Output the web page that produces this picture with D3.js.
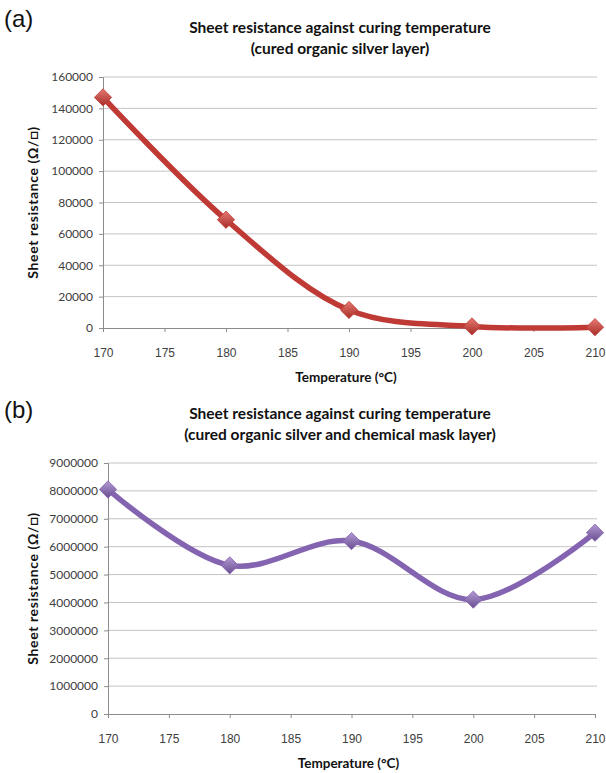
<!DOCTYPE html>
<html>
<head>
<meta charset="utf-8">
<script src="https://cdn.jsdelivr.net/npm/d3@7"></script>
<style>
  body { margin: 0; background: #fff; }
  svg { display: block; font-family: Lato, "Open Sans", sans-serif; }
</style>
</head>
<body>
<svg id="chart" width="606" height="773"></svg>
<script>
// Temperatures shared by both panels
const temperatures = [170, 180, 190, 200, 210];
const xTicks = [170, 175, 180, 185, 190, 195, 200, 205, 210];

// Panel (a): cured organic silver layer
const resistanceA = [147000, 69000, 11500, 1000, 500];
const yTicksA = [0, 20000, 40000, 60000, 80000, 100000, 120000, 140000, 160000];

// Panel (b): cured organic silver and chemical mask layer
const resistanceB = [8050000, 5330000, 6200000, 4100000, 6500000];
const yTicksB = [0, 1000000, 2000000, 3000000, 4000000, 5000000, 6000000, 7000000, 8000000, 9000000];

const svg = d3.select('#chart');
const defs = svg.append('defs');

function addGradient(id, light, dark) {
    const g = defs.append('linearGradient').attr('id', id)
        .attr('x1', 0).attr('y1', 0).attr('x2', 0).attr('y2', 1);
    g.append('stop').attr('offset', '0%').attr('stop-color', light);
    g.append('stop').attr('offset', '100%').attr('stop-color', dark);
}
addGradient('gradRed', '#e57a72', '#a82c27');
addGradient('gradPurple', '#b39ad3', '#6a4e91');

function drawPanel(opts) {
    const g = svg.append('g');

    const x = d3.scaleLinear().domain([170, 210]).range([opts.left, opts.right]);
    const y = d3.scaleLinear().domain([0, opts.yMax]).range([opts.bottom, opts.top]);

    // panel letter
    g.append('text')
        .attr('x', 4).attr('y', opts.letterY)
        .style('font-family', '"Liberation Sans", Arial, sans-serif')
        .style('font-size', '24px')
        .attr('fill', '#111')
        .text(opts.letter);

    // title
    opts.title.forEach((line, i) => {
        g.append('text')
            .attr('x', opts.titleX).attr('y', opts.titleY + i * 21)
            .attr('text-anchor', 'middle')
            .style('font-size', '15.5px').style('font-weight', 'bold')
            .attr('fill', '#111')
            .text(line);
    });

    // gridlines
    g.selectAll('line.grid')
        .data(opts.yTicks.filter(d => d > 0))
        .enter().append('line')
        .attr('x1', opts.left).attr('x2', opts.right + 2)
        .attr('y1', d => y(d)).attr('y2', d => y(d))
        .attr('stroke', '#c4c4c4').attr('stroke-width', 1);

    // y axis
    const yAxis = g.append('g')
        .attr('transform', `translate(${opts.left},0)`)
        .call(d3.axisLeft(y).tickValues(opts.yTicks).tickSize(4).tickPadding(6).tickFormat(d3.format('d')));
    yAxis.select('.domain').attr('stroke', '#8c8c8c');
    yAxis.selectAll('.tick line').attr('stroke', '#8c8c8c');
    yAxis.selectAll('.tick text').attr('fill', '#404040').style('font-size', '12px')
        .style('font-family', 'Lato, sans-serif');

    // x axis
    const xAxis = g.append('g')
        .attr('transform', `translate(0,${opts.bottom})`)
        .call(d3.axisBottom(x).tickValues(xTicks).tickSize(4).tickPadding(16));
    xAxis.select('.domain').attr('stroke', '#8c8c8c');
    xAxis.selectAll('.tick line').attr('stroke', '#8c8c8c');
    xAxis.selectAll('.tick text').attr('fill', '#404040').style('font-size', '12px');

    // axis titles
    g.append('text')
        .attr('x', (opts.left + opts.right) / 2 - 3).attr('y', opts.bottom + 54)
        .attr('text-anchor', 'middle')
        .style('font-size', '13.5px').style('font-weight', 'bold').attr('fill', '#111')
        .text('Temperature (°C)');
    g.append('text')
        .attr('transform', `translate(${opts.yTitleX},${(opts.top + opts.bottom) / 2}) rotate(-90)`)
        .attr('text-anchor', 'middle')
        .style('font-size', '14px').style('font-weight', 'bold').attr('fill', '#111')
        .style('letter-spacing', '0.6px')
        .text('Sheet resistance (Ω/□)');

    // data line
    const pts = temperatures.map((t, i) => [t, opts.values[i]]);
    const line = d3.line()
        .x(d => x(d[0])).y(d => y(d[1]))
        .curve(d3.curveCatmullRom.alpha(0.5));
    g.append('path')
        .datum(pts)
        .attr('d', line)
        .attr('fill', 'none')
        .attr('stroke', opts.color)
        .attr('stroke-width', 5.5)
        .attr('stroke-linecap', 'round');

    // diamond markers
    const sym = d3.symbol().type(d3.symbolDiamond2).size(190);
    g.selectAll('path.marker')
        .data(pts)
        .enter().append('path')
        .attr('class', 'marker')
        .attr('transform', d => `translate(${x(d[0])},${y(d[1])})`)
        .attr('d', sym)
        .attr('fill', opts.fill)
        .attr('stroke', opts.color)
        .attr('stroke-width', 0.8);
}

drawPanel({
    letter: '(a)', letterY: 27,
    title: ['Sheet resistance against curing temperature', '(cured organic silver layer)'],
    titleX: 340, titleY: 33,
    left: 103, right: 595, top: 77, bottom: 328,
    yTitleX: 38,
    yMax: 160000, yTicks: yTicksA, values: resistanceA,
    color: '#c03a35', fill: 'url(#gradRed)'
});

drawPanel({
    letter: '(b)', letterY: 418,
    title: ['Sheet resistance against curing temperature', '(cured organic silver and chemical mask layer)'],
    titleX: 340, titleY: 419,
    left: 108, right: 595, top: 463, bottom: 714,
    yTitleX: 38,
    yMax: 9000000, yTicks: yTicksB, values: resistanceB,
    color: '#8463b0', fill: 'url(#gradPurple)'
});
</script>
</body>
</html>
